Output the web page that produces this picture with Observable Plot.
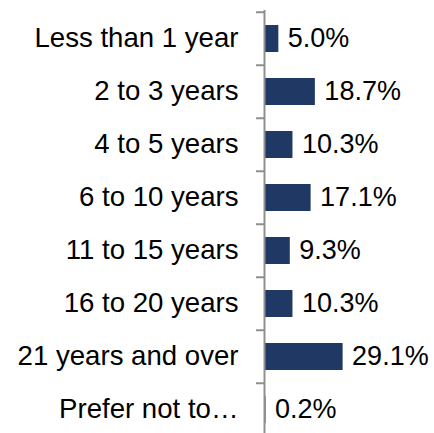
<!DOCTYPE html>
<html>
<head>
<meta charset="utf-8">
<script src="https://cdn.jsdelivr.net/npm/d3@7"></script>
<script src="https://cdn.jsdelivr.net/npm/@observablehq/plot@0.6"></script>
<style>
  html, body { margin: 0; padding: 0; background: #fff; }
</style>
</head>
<body>
<div id="chart"></div>
<script>
const categories = ["Less than 1 year", "2 to 3 years", "4 to 5 years", "6 to 10 years", "11 to 15 years", "16 to 20 years", "21 years and over", "Prefer not to…"];
const values = [5.0, 18.7, 10.3, 17.1, 9.3, 10.3, 29.1, 0.2];

const data = categories.map((c, i) => ({category: c, value: values[i]}));

const yRange = [10, 438];
const step = (yRange[1] - yRange[0]) / categories.length;

const chart = Plot.plot({
  width: 434,
  height: 433,
  marginLeft: 265,
  marginRight: 89,
  marginTop: 10,
  marginBottom: 0,
  style: {fontFamily: "'Liberation Sans', Arial, sans-serif", fontSize: "27px", color: "#000", background: "#fff"},
  x: {domain: [0, 30], axis: null},
  y: {domain: categories, range: yRange, paddingInner: 0.5, paddingOuter: 0.25, label: null},
  marks: [
    Plot.barX(data, {x: "value", y: "category", fill: "#1f3864"}),
    Plot.ruleX([0], {stroke: "#8f8f8f", strokeWidth: 2, dx: -1}),
    Plot.ruleY(categories, {y: d => d, x1: -3, x2: 0, dy: -step / 2, stroke: "#8f8f8f", strokeWidth: 2, dx: -1}),
    Plot.axisY({tickSize: 0, tickPadding: 27, fontSize: 27.6, dy: -1, label: null}),
    Plot.text(data, {x: "value", y: "category", text: d => d.value.toFixed(1) + "%", textAnchor: "start", dx: 9, dy: -1, fontSize: 27, fill: "#000"})
  ]
});
document.getElementById("chart").appendChild(chart);
</script>
</body>
</html>
